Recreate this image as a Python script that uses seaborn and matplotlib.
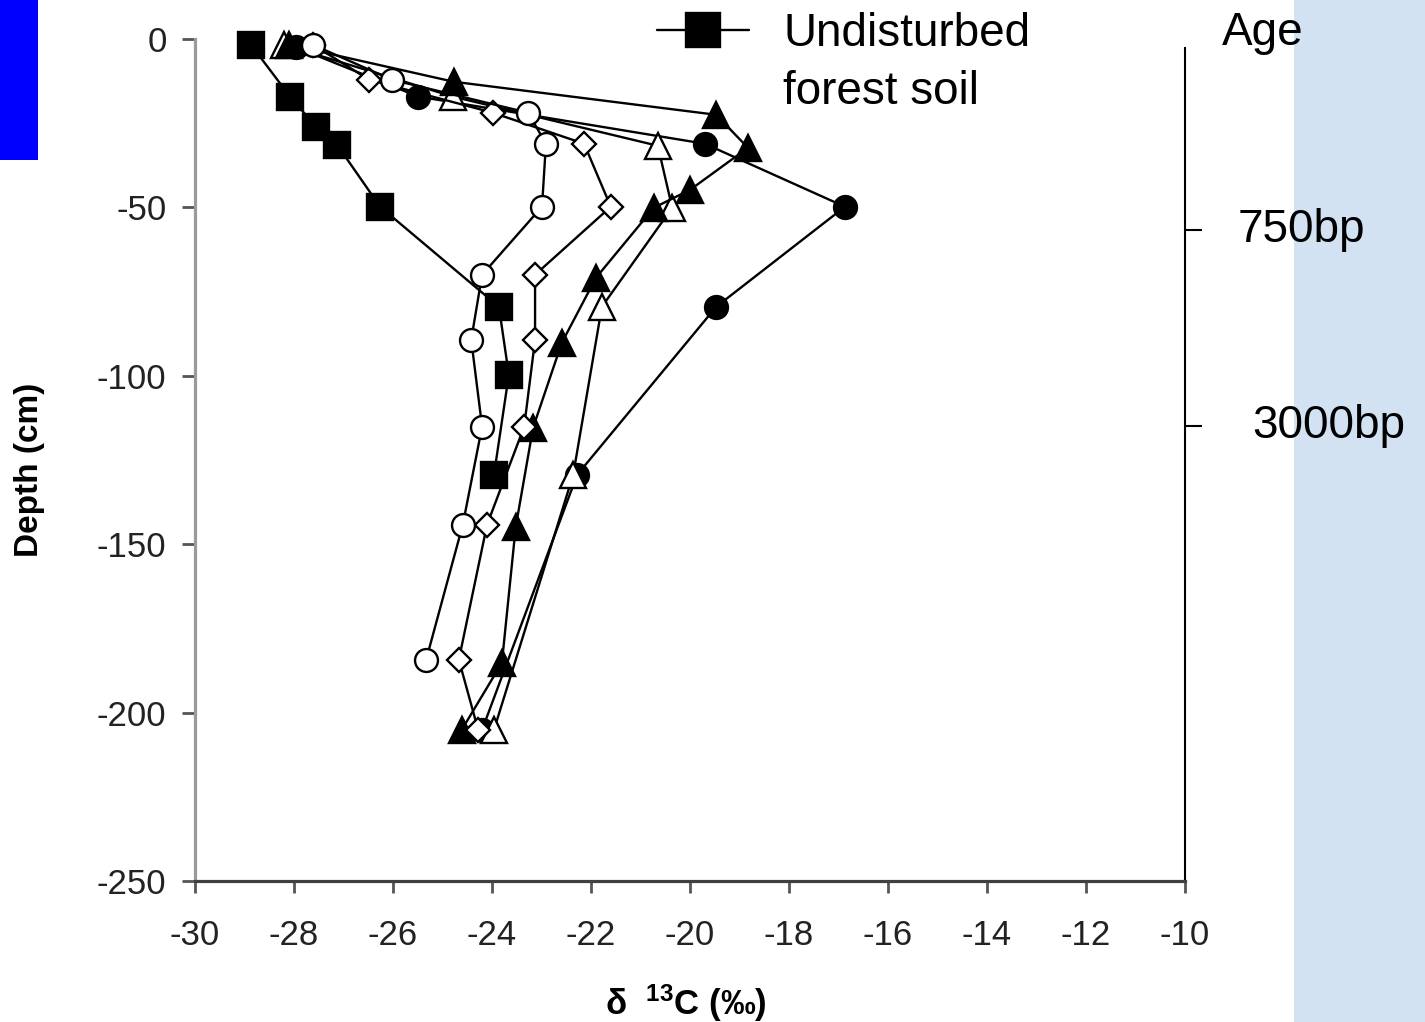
import matplotlib
matplotlib.use("Agg")
import matplotlib.pyplot as plt
import matplotlib.transforms as mtransforms
from matplotlib.patches import Rectangle
import pandas as pd
import seaborn as sns

# --- soil profiles: delta 13C (per mil) against depth (cm) ---
undisturbed_d13c = [-28.87, -28.08, -27.56, -27.13, -26.26, -23.86, -23.66, -23.96]
undisturbed_depth = [-1.7, -17.1, -26.0, -31.4, -49.8, -79.5, -99.7, -129.4]

open_circle_d13c = [-27.62, -26.02, -23.27, -22.91, -22.99, -24.20, -24.42, -24.20, -24.59, -25.33]
open_circle_depth = [-1.7, -12.1, -21.9, -31.1, -49.8, -70.0, -89.3, -115.1, -144.2, -184.3]

diamond_d13c = [-27.62, -26.48, -23.98, -22.14, -21.60, -23.13, -23.13, -23.35, -24.10, -24.67, -24.28]
diamond_depth = [-1.7, -12.1, -21.9, -31.1, -49.8, -70.0, -89.3, -115.1, -144.2, -184.3, -205.1]

filled_tri_d13c = [-28.10, -24.77, -19.47, -18.83, -20.00, -20.73, -21.90, -22.59, -23.17, -23.52, -23.80, -24.61]
filled_tri_depth = [-1.7, -12.7, -22.5, -32.3, -44.8, -50.1, -70.9, -90.2, -115.4, -144.8, -185.2, -205.1]

open_tri_d13c = [-28.20, -24.79, -20.65, -20.36, -21.78, -22.36, -23.96]
open_tri_depth = [-1.7, -17.1, -31.7, -50.1, -79.5, -129.4, -205.1]

filled_circle_d13c = [-27.95, -25.49, -19.70, -16.87, -19.47, -22.28, -24.20]
filled_circle_depth = [-2.5, -17.1, -31.1, -49.8, -79.5, -129.4, -205.1]

x_ticks = list(range(-30, -9, 2))
y_ticks = [0, -50, -100, -150, -200, -250]

age_depths = [-56.6, -115.0]
age_labels = ["750bp", "3000bp"]

sns.set_style("white")
plt.rcParams["font.family"] = ["Liberation Sans", "DejaVu Sans"]
plt.rcParams["axes.unicode_minus"] = False
plt.rcParams["text.color"] = "black"
plt.rcParams["mathtext.fontset"] = "custom"
plt.rcParams["mathtext.rm"] = "Liberation Sans"
plt.rcParams["mathtext.bf"] = "Liberation Sans:bold"

W, H = 1425, 1022
fig = plt.figure(figsize=(W / 100, H / 100), dpi=100)
ax = fig.add_axes([195 / W, 1 - 881 / H, 990 / W, 842 / H])

# draw order matters where markers overlap
profiles = [
    ("filled_circle", filled_circle_d13c, filled_circle_depth, "o", 16.5, "black"),
    ("open_tri", open_tri_d13c, open_tri_depth, "^", 18.5, "white"),
    ("undisturbed", undisturbed_d13c, undisturbed_depth, "s", 18.5, "black"),
    ("filled_tri", filled_tri_d13c, filled_tri_depth, "^", 18.5, "black"),
    ("diamond", diamond_d13c, diamond_depth, "D", 12.5, "white"),
    ("open_circle", open_circle_d13c, open_circle_depth, "o", 16.5, "white"),
]

handles = {}
for i, (name, xs, ys, mk, ms, fc) in enumerate(profiles):
    df = pd.DataFrame({"d13c": xs, "depth": ys})
    sns.lineplot(data=df, x="d13c", y="depth", sort=False, estimator=None,
                 color="black", lw=1.7, marker=mk, markersize=ms,
                 markerfacecolor=fc, markeredgecolor="black",
                 markeredgewidth=1.7, clip_on=False, zorder=3 + i, ax=ax)
    handles[name] = ax.lines[-1]

ax.set_xlim(-30, -10)
ax.set_ylim(-250, 0)
ax.set_xticks(x_ticks)
ax.set_xticklabels([str(t) for t in x_ticks])
ax.set_yticks(y_ticks)
ax.set_yticklabels([str(t) for t in y_ticks])
ax.set_xlabel("")
ax.set_ylabel("")

ax.spines["top"].set_visible(False)
ax.spines["left"].set_color("#9a9a9a")
ax.spines["left"].set_linewidth(2.3)
ax.spines["bottom"].set_color("#404040")
ax.spines["bottom"].set_linewidth(2.3)
ax.spines["right"].set_color("black")
ax.spines["right"].set_linewidth(1.5)
ax.spines["right"].set_bounds(-250, -2.6)

ax.tick_params(axis="y", direction="out", length=9.5, width=2, color="#555555",
               pad=11, labelsize=25, labelcolor="#222222", left=True, right=False)
ax.tick_params(axis="x", direction="out", length=8.5, width=2, color="#555555",
               pad=19, labelsize=25, labelcolor="#222222", bottom=True)

# age scale on the right edge
ax2 = ax.twinx()
ax2.set_ylim(ax.get_ylim())
ax2.set_yticks(age_depths)
ax2.set_yticklabels([])
for s in ["top", "left", "bottom", "right"]:
    ax2.spines[s].set_visible(False)
ax2.tick_params(axis="y", direction="out", length=12, width=1.5, color="black", right=True)

blend = mtransforms.blended_transform_factory(fig.transFigure, ax.transData)
age_x = [1238 / W, 1252 / W]
for xx, d, lab in zip(age_x, age_depths, age_labels):
    ax.text(xx, d, lab, transform=blend, fontsize=33, va="center", ha="left",
            color="black", clip_on=False)
fig.text(1222 / W, 1 - 45 / H, "Age", fontsize=33, va="baseline", ha="left")

leg = ax.legend(handles=[handles["undisturbed"]], labels=["Undisturbed"],
                loc="upper left", bbox_to_anchor=(657 / W, 1 - 12 / H),
                bbox_transform=fig.transFigure, frameon=False, fontsize=33,
                handlelength=2.0, handletextpad=0.76, borderpad=0,
                borderaxespad=0, markerscale=1.3, labelcolor="black")
fig.text(783 / W, 1 - 104 / H, "forest soil", fontsize=33, va="baseline", ha="left")

fig.text(30 / W, 1 - 470 / H, "Depth (cm)", rotation=90, fontsize=24,
         fontweight="bold", ha="center", va="center")
fig.text(686 / W, 1 - 1003 / H, r"δ  $\mathbf{^{13}}$C (‰)", fontsize=25,
         fontweight="bold", ha="center", va="center")

# slide decorations
fig.add_artist(Rectangle((0, 1 - 160 / H), 38 / W, 160 / H, transform=fig.transFigure,
                         facecolor="#0000ff", edgecolor="none", zorder=-1))
fig.add_artist(Rectangle((1294 / W, 0), (W - 1294) / W, 1, transform=fig.transFigure,
                         facecolor="#d2e2f3", edgecolor="none", zorder=-1))

fig.savefig("out.png", dpi=100)
